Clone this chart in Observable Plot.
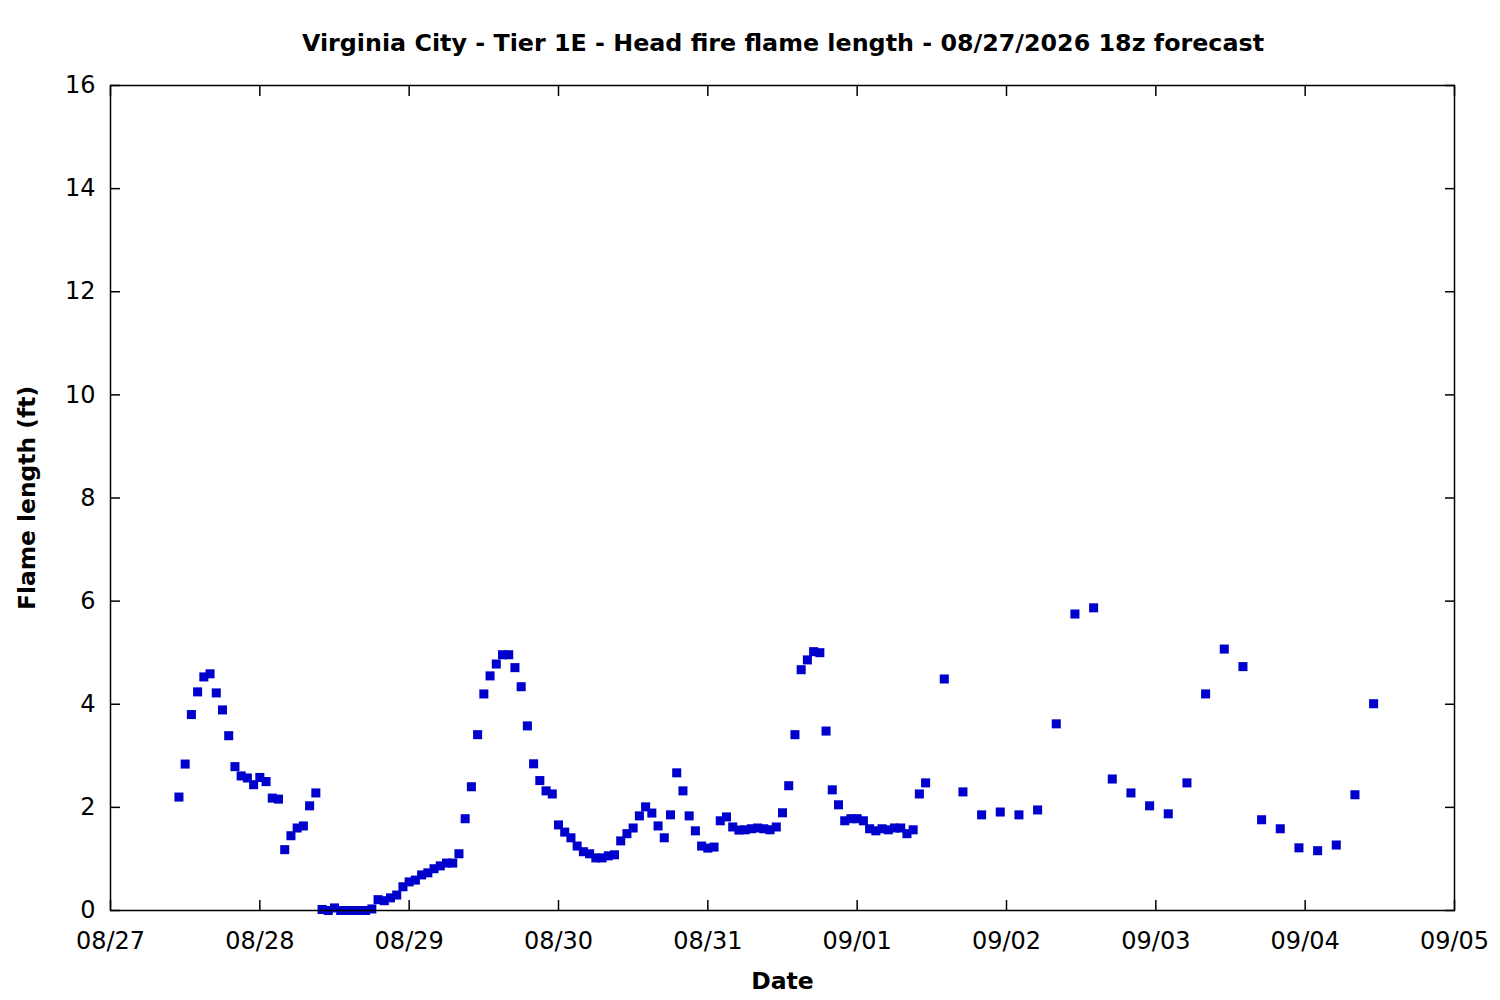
<!DOCTYPE html>
<html>
<head>
<meta charset="utf-8">
<script src="https://cdn.jsdelivr.net/npm/d3@7"></script>
<script src="https://cdn.jsdelivr.net/npm/@observablehq/plot@0.6"></script>
<style>
  html, body { margin: 0; padding: 0; background: #fff; }
  #title { height: 70px; width: 1500px; box-sizing: border-box; padding-left: 66px; text-align: center;
    font-family: "DejaVu Sans", sans-serif; font-weight: bold; font-size: 23.8px; line-height: 86px; color: #000; }
  #chart svg { display: block; }
</style>
</head>
<body>
<div id="title"></div>
<div id="chart"></div>
<script>
const titleText = "Virginia City - Tier 1E - Head fire flame length - 08/27/2026 18z forecast";
const xLabel = "Date";
const yLabel = "Flame length (ft)";

// Hourly forecast (local time), starting 08/27 11:00
const hourlyStart = "2026-08-27T11:00:00Z";
const hourlyValues = [
  2.20, 2.84, 3.80, 4.24, 4.53, 4.59, 4.22, 3.89, 3.39, 2.79, 2.61, 2.57, 2.44,
  2.58, 2.50, 2.18, 2.16, 1.18, 1.45, 1.60, 1.64, 2.03, 2.28,
  0.02, 0.00, 0.05, 0.00, 0.00, 0.00, 0.00, 0.00, 0.03,
  0.21, 0.19, 0.245, 0.30, 0.46, 0.555, 0.59, 0.69, 0.73, 0.81, 0.865, 0.92, 0.92,
  1.10, 1.78, 2.40, 3.41, 4.20, 4.55, 4.78, 4.96, 4.96, 4.71, 4.34, 3.58, 2.845,
  2.52, 2.32, 2.26,
  1.66, 1.52, 1.41, 1.25, 1.14, 1.10, 1.02, 1.02, 1.06, 1.08, 1.35, 1.49, 1.60,
  1.835, 2.01, 1.89, 1.64, 1.41, 1.855, 2.67, 2.32, 1.835, 1.545, 1.25, 1.21, 1.23,
  1.74, 1.815, 1.62, 1.56, 1.565, 1.585, 1.60, 1.585, 1.565, 1.62, 1.895, 2.42,
  3.41, 4.67, 4.86, 5.02, 5.00, 3.48, 2.34, 2.05, 1.74, 1.78,
  1.78, 1.74, 1.585, 1.545, 1.585, 1.565, 1.60, 1.60, 1.49, 1.565, 2.26, 2.475
];
// 3-hourly forecast, starting 09/01 14:00
const threeHourlyStart = "2026-09-01T14:00:00Z";
const threeHourlyValues = [
  4.49, 2.30, 1.855, 1.91, 1.855, 1.95, 3.62, 5.75, 5.87, 2.55, 2.28, 2.03,
  1.875, 2.475, 4.20, 5.07, 4.73, 1.76, 1.585, 1.215, 1.16, 1.27, 2.245, 4.01
];

const xDomain = ["2026-08-27T00:00:00Z", "2026-09-05T00:00:00Z"];
const xTicks = ["2026-08-27", "2026-08-28", "2026-08-29", "2026-08-30", "2026-08-31",
                "2026-09-01", "2026-09-02", "2026-09-03", "2026-09-04", "2026-09-05"];
const yTicks = [0, 2, 4, 6, 8, 10, 12, 14, 16];

const HOUR = 3600 * 1000;
const data = [
  ...hourlyValues.map((v, i) => ({date: new Date(new Date(hourlyStart).getTime() + i * HOUR), value: v})),
  ...threeHourlyValues.map((v, i) => ({date: new Date(new Date(threeHourlyStart).getTime() + i * 3 * HOUR), value: v}))
];
const xTickDates = xTicks.map(d => new Date(d + "T00:00:00Z"));
const fmt = d3.utcFormat("%m/%d");

document.getElementById("title").textContent = titleText;

const chart = Plot.plot({
  width: 1500,
  height: 930,
  marginLeft: 110,
  marginRight: 46,
  marginTop: 15,
  marginBottom: 90,
  style: {fontFamily: "DejaVu Sans, sans-serif", fontSize: "24px", color: "#000", background: "#fff"},
  x: {type: "utc", domain: xDomain.map(d => new Date(d))},
  y: {domain: [0, 16]},
  marks: [
    Plot.dot(data, {x: "date", y: "value", symbol: "square", r: 5.1, fill: "#0000cc", stroke: "none"}),
    Plot.frame({stroke: "#000", strokeWidth: 1.5}),
    // inward ticks on all four sides
    Plot.axisX(xTickDates, {anchor: "bottom", tickSize: -10, text: null, strokeWidth: 1.5, label: null}),
    Plot.axisX(xTickDates, {anchor: "top", tickSize: -10, text: null, strokeWidth: 1.5, label: null}),
    Plot.axisY(yTicks, {anchor: "left", tickSize: -10, text: null, strokeWidth: 1.5, label: null}),
    Plot.axisY(yTicks, {anchor: "right", tickSize: -10, text: null, strokeWidth: 1.5, label: null}),
    // tick labels
    Plot.axisX(xTickDates, {anchor: "bottom", tickSize: 0, tickPadding: 21, tickFormat: fmt, label: null, fontSize: 24}),
    Plot.axisY(yTicks, {anchor: "left", tickSize: 0, tickPadding: 15, tickFormat: d3.format("d"), label: null, fontSize: 24}),
    // axis titles
    Plot.text([xLabel], {frameAnchor: "bottom", dy: 78, text: d => d, fontWeight: "bold", fontSize: 23.5}),
    Plot.text([yLabel], {frameAnchor: "left", dx: -83, rotate: -90, textAnchor: "middle", text: d => d, fontWeight: "bold", fontSize: 23.4})
  ]
});
document.getElementById("chart").appendChild(chart);
</script>
</body>
</html>
